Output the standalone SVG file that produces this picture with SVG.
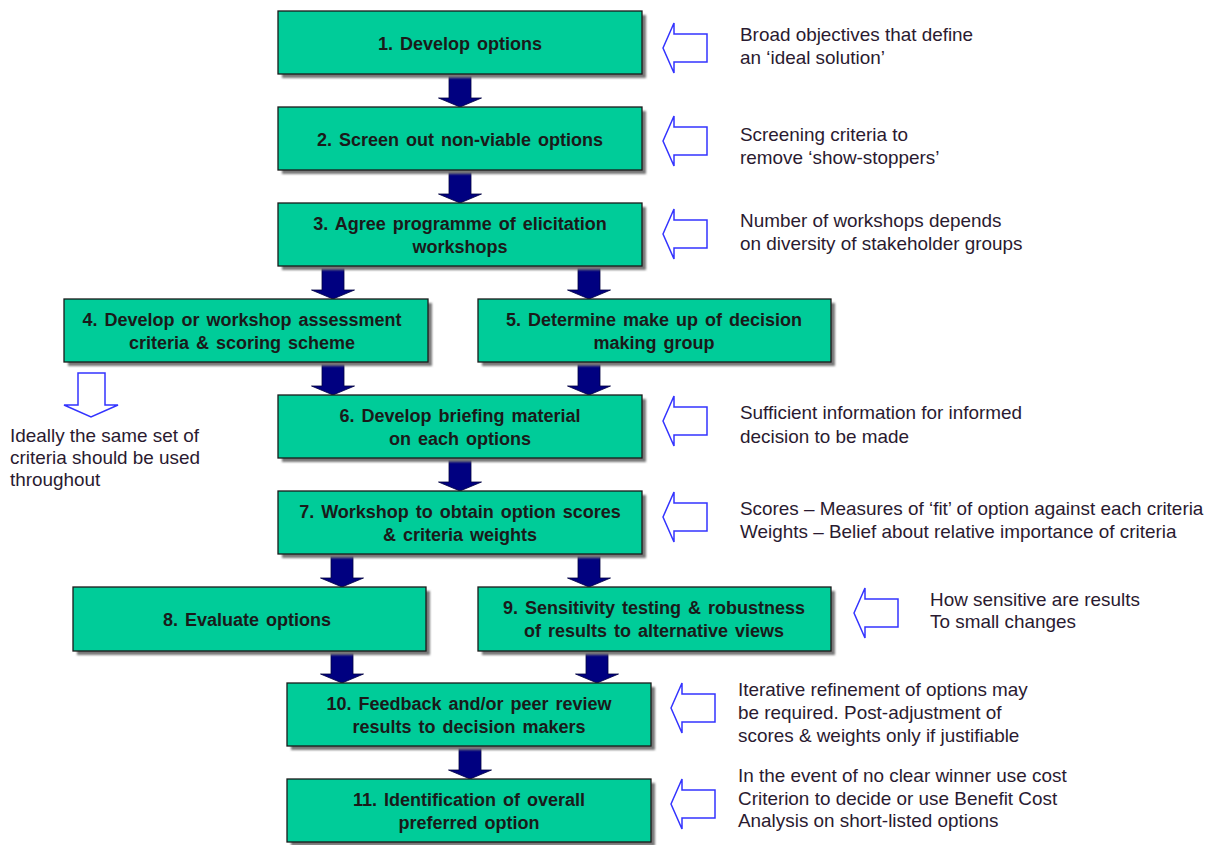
<svg xmlns="http://www.w3.org/2000/svg" width="1205" height="845" viewBox="0 0 1205 845">
<defs>
<filter id="sh" x="-5%" y="-10%" width="115%" height="130%"><feGaussianBlur stdDeviation="1"/></filter>
<path id="down" d="M-11,0 V-24 H-21.5 L0,-33 L21.5,-24 H11 V0 Z" transform="scale(1,-1)"/>
<path id="hollowL" d="M0,0 L11,-25 V-14 H44 V14 H11 V25 Z"/>
</defs>
<style>
.box{fill:#00CC99;stroke:#1a1a1a;stroke-width:1.3}
.shadow{fill:#777;filter:url(#sh)}
.bt{font-family:"Liberation Sans",Arial,sans-serif;font-weight:bold;font-size:18px;fill:#1a1a1a;text-anchor:middle;word-spacing:2px}
.nt{font-family:"Liberation Sans",Arial,sans-serif;font-size:17.5px;fill:#2a1a30}
.dn{fill:#000080;stroke:#000040;stroke-width:0.8}
.ho{fill:#fff;stroke:#3333ff;stroke-width:1.5}
</style>
<rect width="1205" height="845" fill="#fff"/>

<g id="connectors">
<use href="#down" class="dn" x="460" y="74"/>
<use href="#down" class="dn" x="460" y="170"/>
<use href="#down" class="dn" x="333" y="266"/>
<use href="#down" class="dn" x="589" y="266"/>
<use href="#down" class="dn" x="333" y="362"/>
<use href="#down" class="dn" x="589" y="362"/>
<use href="#down" class="dn" x="460" y="458"/>
<use href="#down" class="dn" x="342" y="554"/>
<use href="#down" class="dn" x="589" y="554"/>
<use href="#down" class="dn" x="342" y="650"/>
<use href="#down" class="dn" x="597" y="650"/>
<use href="#down" class="dn" x="470" y="746"/>
</g>

<g id="n1"><rect class="shadow" x="282" y="15" width="364" height="63"/><rect class="box" x="278" y="11" width="364" height="63"/><text class="bt" x="460" y="50">1. Develop options</text></g>
<g id="n2"><rect class="shadow" x="282" y="111" width="364" height="63"/><rect class="box" x="278" y="107" width="364" height="63"/><text class="bt" x="460" y="146">2. Screen out non-viable options</text></g>
<g id="n3"><rect class="shadow" x="282" y="207" width="364" height="63"/><rect class="box" x="278" y="203" width="364" height="63"/><text class="bt" x="460" y="230">3. Agree programme of elicitation</text><text class="bt" x="460" y="253">workshops</text></g>
<g id="n4"><rect class="shadow" x="68" y="303" width="364" height="63"/><rect class="box" x="64" y="299" width="364" height="63"/><text class="bt" x="242" y="326">4. Develop or workshop assessment</text><text class="bt" x="242" y="349">criteria &amp; scoring scheme</text></g>
<g id="n5"><rect class="shadow" x="482" y="303" width="353" height="63"/><rect class="box" x="478" y="299" width="353" height="63"/><text class="bt" x="654" y="326">5. Determine make up of decision</text><text class="bt" x="654" y="349">making group</text></g>
<g id="n6"><rect class="shadow" x="282" y="399" width="364" height="63"/><rect class="box" x="278" y="395" width="364" height="63"/><text class="bt" x="460" y="422">6. Develop briefing material</text><text class="bt" x="460" y="445">on each options</text></g>
<g id="n7"><rect class="shadow" x="282" y="495" width="364" height="63"/><rect class="box" x="278" y="491" width="364" height="63"/><text class="bt" x="460" y="518">7. Workshop to obtain option scores</text><text class="bt" x="460" y="541">&amp; criteria weights</text></g>
<g id="n8"><rect class="shadow" x="77" y="591" width="353" height="64"/><rect class="box" x="73" y="587" width="353" height="64"/><text class="bt" x="247" y="626">8. Evaluate options</text></g>
<g id="n9"><rect class="shadow" x="482" y="591" width="353" height="64"/><rect class="box" x="478" y="587" width="353" height="64"/><text class="bt" x="654" y="614">9. Sensitivity testing &amp; robustness</text><text class="bt" x="654" y="637">of results to alternative views</text></g>
<g id="n10"><rect class="shadow" x="291" y="687" width="364" height="63"/><rect class="box" x="287" y="683" width="364" height="63"/><text class="bt" x="469" y="710">10. Feedback and/or peer review</text><text class="bt" x="469" y="733">results to decision makers</text></g>
<g id="n11"><rect class="shadow" x="291" y="783" width="364" height="63"/><rect class="box" x="287" y="779" width="364" height="63"/><text class="bt" x="469" y="806">11. Identification of overall</text><text class="bt" x="469" y="829">preferred option</text></g>

<g id="notes">
<use href="#hollowL" class="ho" x="663" y="48"/>
<g transform="translate(740 0) scale(1.08 1)">
<text class="nt" x="0" y="41">Broad objectives that define</text>
<text class="nt" x="0" y="64">an ‘ideal solution’</text>
</g>

<use href="#hollowL" class="ho" x="663" y="141"/>
<g transform="translate(740 0) scale(1.08 1)">
<text class="nt" x="0" y="141">Screening criteria to</text>
<text class="nt" x="0" y="164">remove ‘show-stoppers’</text>
</g>

<use href="#hollowL" class="ho" x="663" y="234"/>
<g transform="translate(740 0) scale(1.08 1)">
<text class="nt" x="0" y="227">Number of workshops depends</text>
<text class="nt" x="0" y="250">on diversity of stakeholder groups</text>
</g>

<use href="#hollowL" class="ho" x="663" y="421"/>
<g transform="translate(740 0) scale(1.08 1)">
<text class="nt" x="0" y="419">Sufficient information for informed</text>
<text class="nt" x="0" y="443">decision to be made</text>
</g>

<use href="#hollowL" class="ho" x="663" y="517"/>
<g transform="translate(740 0) scale(1.08 1)">
<text class="nt" x="0" y="515">Scores – Measures of ‘fit’ of option against each criteria</text>
<text class="nt" x="0" y="538">Weights – Belief about relative importance of criteria</text>
</g>

<use href="#hollowL" class="ho" x="854" y="613"/>
<g transform="translate(930 0) scale(1.08 1)">
<text class="nt" x="0" y="606">How sensitive are results</text>
<text class="nt" x="0" y="628">To small changes</text>
</g>

<use href="#hollowL" class="ho" x="671" y="708"/>
<g transform="translate(738 0) scale(1.08 1)">
<text class="nt" x="0" y="696">Iterative refinement of options may</text>
<text class="nt" x="0" y="719">be required. Post-adjustment of</text>
<text class="nt" x="0" y="742">scores &amp; weights only if justifiable</text>
</g>

<use href="#hollowL" class="ho" x="671" y="804"/>
<g transform="translate(738 0) scale(1.08 1)">
<text class="nt" x="0" y="782">In the event of no clear winner use cost</text>
<text class="nt" x="0" y="805">Criterion to decide or use Benefit Cost</text>
<text class="nt" x="0" y="827">Analysis on short-listed options</text>
</g>

<path class="ho" d="M78,373 H105 V405 H118 L91,417 L64,405 H78 Z"/>
<g transform="translate(10 0) scale(1.08 1)">
<text class="nt" x="0" y="442">Ideally the same set of</text>
<text class="nt" x="0" y="464">criteria should be used</text>
<text class="nt" x="0" y="486">throughout</text>
</g>
</g>
</svg>
